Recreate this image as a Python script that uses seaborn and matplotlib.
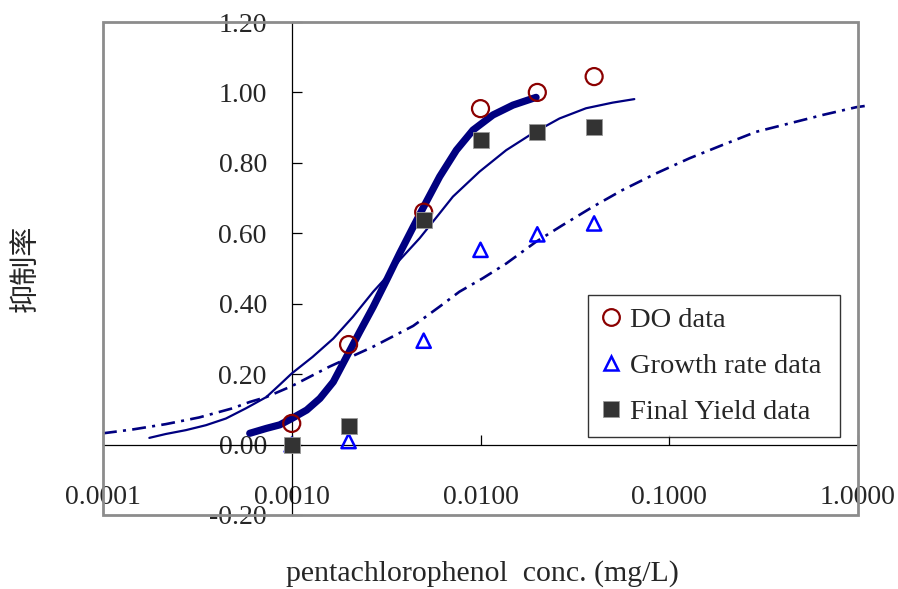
import matplotlib
matplotlib.use("Agg")
import matplotlib.pyplot as plt
from matplotlib.lines import Line2D
from matplotlib.patches import Rectangle
import seaborn as sns

# ---- data ----
conc = [0.001, 0.002, 0.005, 0.01, 0.02, 0.04]
do_data = [0.06, 0.284, 0.66, 0.954, 1.0, 1.045]
growth_data = [0.0, 0.01, 0.295, 0.553, 0.597, 0.628]
yield_data = [0.0, 0.054, 0.637, 0.864, 0.887, 0.901]

# fitted curves
do_fit_x = [0.000599, 0.000734, 0.000864, 0.001, 0.0012, 0.00141, 0.00166, 0.00195,
            0.00229, 0.0027, 0.00318, 0.00373, 0.0044, 0.00517, 0.00608, 0.00745,
            0.00912, 0.01164, 0.01486, 0.0197]
do_fit_y = [0.032, 0.046, 0.056, 0.074, 0.098, 0.131, 0.178, 0.249,
            0.32, 0.391, 0.467, 0.543, 0.618, 0.69, 0.761, 0.836,
            0.893, 0.936, 0.964, 0.986]

yield_fit_x = [0.000176, 0.000215, 0.000275, 0.000351, 0.000448, 0.000572, 0.000734,
               0.000864, 0.001, 0.00129, 0.00166, 0.00211, 0.0027, 0.00318, 0.00373,
               0.00476, 0.00608, 0.00714, 0.00988, 0.01368, 0.0189, 0.0262, 0.0362,
               0.0501, 0.0653]
yield_fit_y = [0.019, 0.030, 0.041, 0.055, 0.074, 0.103, 0.135,
               0.170, 0.202, 0.249, 0.301, 0.363, 0.434, 0.476, 0.524,
               0.586, 0.657, 0.704, 0.775, 0.836, 0.884, 0.926, 0.955,
               0.971, 0.981]

growth_fit_x = [0.0001, 0.000144, 0.000215, 0.000323, 0.000486, 0.000599, 0.000734,
                0.001, 0.00158, 0.0027, 0.0044, 0.00608, 0.00773, 0.01026, 0.01368,
                0.0197, 0.0272, 0.0393, 0.0566, 0.0851, 0.128, 0.192, 0.288, 0.433,
                0.65, 0.977, 1.104]
growth_fit_y = [0.032, 0.043, 0.058, 0.077, 0.103, 0.121, 0.135,
                0.166, 0.221, 0.278, 0.337, 0.392, 0.434, 0.472, 0.514,
                0.576, 0.623, 0.675, 0.723, 0.77, 0.813, 0.851, 0.888, 0.912,
                0.936, 0.958, 0.962]

x_ticks = [0.0001, 0.001, 0.01, 0.1, 1.0]
x_tick_labels = ["0.0001", "0.0010", "0.0100", "0.1000", "1.0000"]
y_ticks = [-0.2, 0.0, 0.2, 0.4, 0.6, 0.8, 1.0, 1.2]
y_tick_labels = ["-0.20", "0.00", "0.20", "0.40", "0.60", "0.80", "1.00", "1.20"]

legend_labels = ["DO data", "Growth rate data", "Final Yield data"]

# ---- style ----
sns.set_style("white")
plt.rcParams["font.family"] = ["Liberation Serif", "DejaVu Serif"]
plt.rcParams["lines.scale_dashes"] = False

navy = "#000080"
W, H = 898, 589
fig = plt.figure(figsize=(W / 100, H / 100), dpi=100)
L, R, T, B = 103, 858, 22, 515
ax = fig.add_axes([L / W, 1 - B / H, (R - L) / W, (B - T) / H])
ax.set_facecolor("white")
ax.set_xscale("log")

# curves
sns.lineplot(x=growth_fit_x, y=growth_fit_y, ax=ax, color=navy, linewidth=1.9,
             linestyle=(0, (10, 4.5, 2.2, 4.5)), zorder=2, clip_on=False)
sns.lineplot(x=yield_fit_x, y=yield_fit_y, ax=ax, color=navy, linewidth=1.6, zorder=2)
sns.lineplot(x=do_fit_x, y=do_fit_y, ax=ax, color=navy, linewidth=5.2, zorder=2,
             solid_capstyle="round", solid_joinstyle="round")

# data markers
sns.scatterplot(x=conc, y=growth_data, ax=ax, marker="^", s=105, facecolor="none",
                edgecolor="#0000FF", linewidth=1.8, zorder=4)
sns.scatterplot(x=conc, y=do_data, ax=ax, marker="o", s=150, facecolor="none",
                edgecolor="#8B0000", linewidth=1.6, zorder=5)
sns.scatterplot(x=conc, y=yield_data, ax=ax, marker="s", s=118, color="#333333",
                edgecolor="#9a9a9a", linewidth=0.6, zorder=6)

ax.set_xlim(1e-4, 1.0)
ax.set_ylim(-0.2, 1.2)
ax.set_xlabel("")
ax.set_ylabel("")

# axes crossing at x=0.001 and y=0
for s in ["top", "right"]:
    ax.spines[s].set_visible(False)
ax.spines["left"].set_position(("data", 0.001))
ax.spines["bottom"].set_position(("data", 0.0))
for s in ["left", "bottom"]:
    ax.spines[s].set_color("black")
    ax.spines[s].set_linewidth(0.9)
    ax.spines[s].set_zorder(1)

ax.set_xticks(x_ticks)
ax.set_xticklabels(x_tick_labels)
ax.xaxis.set_minor_locator(matplotlib.ticker.NullLocator())
ax.set_yticks(y_ticks)
ax.set_yticklabels(y_tick_labels)
ax.tick_params(axis="x", direction="in", length=7.2, width=0.9, color="black",
               pad=29, labelsize=20, bottom=True)
ax.tick_params(axis="y", direction="in", length=7.2, width=0.9, color="black",
               pad=18, labelsize=20, left=True)

# gray outer frame
ax.add_patch(Rectangle((0, 0), 1, 1, transform=ax.transAxes, fill=False,
                       edgecolor="#8c8c8c", linewidth=2.0, clip_on=False, zorder=7))

# legend
handles = [
    Line2D([], [], linestyle="none", marker="o", markersize=12, markerfacecolor="none",
           markeredgecolor="#8B0000", markeredgewidth=1.6),
    Line2D([], [], linestyle="none", marker="^", markersize=10.5, markerfacecolor="none",
           markeredgecolor="#0000FF", markeredgewidth=1.8),
    Line2D([], [], linestyle="none", marker="s", markersize=11, markerfacecolor="#333333",
           markeredgecolor="#9a9a9a", markeredgewidth=0.6),
]
leg = ax.legend(handles, legend_labels, loc="upper left", mode="expand",
                bbox_to_anchor=(588 / W, 1 - 435 / H, (840 - 588) / W, (435 - 295) / H),
                bbox_transform=fig.transFigure, fontsize=20.5, frameon=True,
                fancybox=False, edgecolor="black", borderpad=0.42, labelspacing=0.71,
                handlelength=0.75, handletextpad=0.3, borderaxespad=0.0)
leg.get_frame().set_linewidth(1.0)
leg.set_zorder(8)

# axis titles
fig.text(482 / W, 1 - 574 / H, "pentachlorophenol  conc. (mg/L)", ha="center", va="center",
         fontsize=21.5, family=["Liberation Serif", "DejaVu Serif"])
fig.text(26 / W, 1 - 268 / H, "抑制率", rotation=90, ha="center", va="center",
         fontsize=21, family=["Noto Sans CJK TC", "DejaVu Sans"])

fig.savefig("out.png", dpi=100)
